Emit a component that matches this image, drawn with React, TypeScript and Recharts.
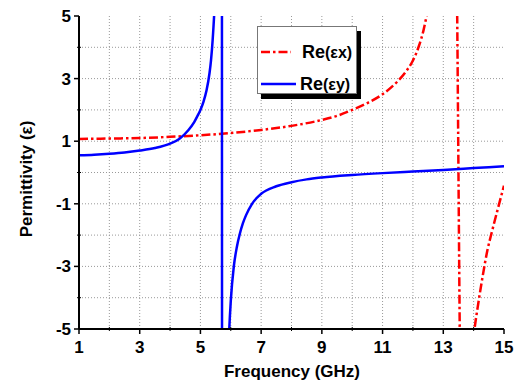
import React from 'react';
import { LineChart, Line, XAxis, YAxis, ReferenceLine } from 'recharts';

// Re(εy) – blue solid
const blueFreq = [1, 1.5, 2, 2.5, 3, 3.5, 4, 4.3, 4.6, 4.8, 4.9, 5, 5.1, 5.2, 5.3, 5.35, 5.4, 5.45, 5.5, 5.6, 5.7, 5.72, 5.85, 5.95, 6, 6.1, 6.2, 6.3, 6.4, 6.5, 6.7, 7, 7.5, 8, 8.5, 9, 10, 11, 12, 13, 14, 15];
const blueEps = [0.55, 0.57, 0.6, 0.64, 0.7, 0.78, 0.92, 1.07, 1.35, 1.62, 1.8, 2.0, 2.26, 2.62, 3.18, 3.6, 4.2, 5.0, 6.2, 10, 40, -40, -8, -5, -4.1, -3.0, -2.38, -1.95, -1.62, -1.37, -1.0, -0.68, -0.44, -0.31, -0.22, -0.16, -0.08, -0.02, 0.03, 0.08, 0.14, 0.2];

// Re(εx) – red dash-dot
const redFreq = [1, 2, 3, 4, 5, 6, 7, 8, 9, 9.5, 10, 10.5, 11, 11.5, 11.75, 12, 12.2, 12.35, 12.45, 12.6, 12.8, 13.0, 13.2, 13.38, 13.62, 14.03, 14.15, 14.3, 14.45, 14.6, 14.8, 15];
const redEps = [1.07, 1.085, 1.1, 1.14, 1.19, 1.26, 1.36, 1.49, 1.68, 1.81, 2.0, 2.22, 2.5, 2.92, 3.2, 3.58, 4.05, 4.55, 5.0, 5.8, 7.0, 8.5, 9.5, 10, -10, -5, -4.2, -3.3, -2.5, -1.9, -1.15, -0.42];

const xTicks = [1, 2, 3, 4, 5, 6, 7, 8, 9, 10, 11, 12, 13, 14, 15];
const yTicks = [-5, -4, -3, -2, -1, 0, 1, 2, 3, 4, 5];
const xGrid = [2, 3, 4, 5, 6, 7, 8, 9, 10, 11, 12, 13, 14];
const yGrid = [-4, -3, -2, -1, 0, 1, 2, 3, 4];

const blueData = blueFreq.map((f, i) => ({ f, v: blueEps[i] }));
const redData = redFreq.map((f, i) => ({ f, v: redEps[i] }));

const font = '"Liberation Sans", Arial, sans-serif';
const isMajor = (v: number) => Math.abs(v) % 2 === 1;

const BottomTick = (props: any) => {
  const { x, y, payload } = props;
  const v = payload.value;
  return (
    <g>
      {isMajor(v) ? (
        <line x1={x} x2={x} y1={y} y2={y + 5} stroke="#000" strokeWidth={1.5} />
      ) : (
        <line x1={x} x2={x} y1={y - 2} y2={y + 2} stroke="#000" strokeWidth={1} />
      )}
      {isMajor(v) && (
        <text x={x} y={y + 24} textAnchor="middle" fontSize={17} fontWeight="bold" fontFamily={font} fill="#000">
          {v}
        </text>
      )}
    </g>
  );
};

const LeftTick = (props: any) => {
  const { x, y, payload } = props;
  const v = payload.value;
  return (
    <g>
      {isMajor(v) ? (
        <line x1={x - 5} x2={x} y1={y} y2={y} stroke="#000" strokeWidth={1.5} />
      ) : (
        <line x1={x - 2} x2={x + 2} y1={y} y2={y} stroke="#000" strokeWidth={1} />
      )}
      {isMajor(v) && (
        <text x={x - 8} y={y + 6} textAnchor="end" fontSize={17} fontWeight="bold" fontFamily={font} fill="#000">
          {v}
        </text>
      )}
    </g>
  );
};

const TopTick = (props: any) => {
  const { x, y, payload } = props;
  const len = isMajor(payload.value) ? 4 : 2;
  return <line x1={x} x2={x} y1={y} y2={y + len} stroke="#000" strokeWidth={1} />;
};

const RightTick = (props: any) => {
  const { x, y, payload } = props;
  const len = isMajor(payload.value) ? 4 : 2;
  return <line x1={x} x2={x + len} y1={y} y2={y} stroke="#000" strokeWidth={1} />;
};

const gridStroke = '#999';

export default function App() {
  return (
    <div style={{ position: 'absolute', left: 0, top: 0, width: 526, height: 383, background: '#fff' }}>
      <LineChart width={526} height={383} data={blueData} margin={{ top: 16, right: 22, bottom: 0, left: 0 }}>
        <XAxis
          dataKey="f"
          type="number"
          domain={[1, 15]}
          ticks={xTicks}
          interval={0}
          height={54}
          tickSize={0}
          tickMargin={0}
          tickLine={false}
          tick={BottomTick}
          axisLine={{ stroke: '#000', strokeWidth: 2 }}
          allowDataOverflow
        />
        <XAxis
          xAxisId="top"
          orientation="top"
          dataKey="f"
          type="number"
          domain={[1, 15]}
          ticks={xTicks}
          interval={0}
          height={0}
          tickSize={0}
          tickMargin={0}
          tickLine={false}
          tick={TopTick}
          axisLine={{ stroke: '#000', strokeWidth: 2 }}
        />
        <YAxis
          type="number"
          domain={[-5, 5]}
          ticks={yTicks}
          interval={0}
          width={79}
          tickSize={0}
          tickMargin={0}
          tickLine={false}
          tick={LeftTick}
          axisLine={{ stroke: '#000', strokeWidth: 2 }}
          allowDataOverflow
        />
        <YAxis
          yAxisId="right"
          orientation="right"
          type="number"
          domain={[-5, 5]}
          ticks={yTicks}
          interval={0}
          width={0}
          tickSize={0}
          tickMargin={0}
          tickLine={false}
          tick={RightTick}
          axisLine={{ stroke: '#000', strokeWidth: 2 }}
        />
        {xGrid.map((g) => (
          <ReferenceLine key={'x' + g} x={g} stroke={gridStroke} strokeDasharray="1 2" strokeWidth={1} />
        ))}
        {yGrid.map((g) => (
          <ReferenceLine key={'y' + g} y={g} stroke={gridStroke} strokeDasharray="1 2" strokeWidth={1} />
        ))}
        <Line
          data={redData}
          dataKey="v"
          type="monotone"
          stroke="#ff0000"
          strokeWidth={2.5}
          strokeDasharray="9 3 2.5 3"
          dot={false}
          activeDot={false}
          isAnimationActive={false}
        />
        <Line
          data={blueData}
          dataKey="v"
          type="monotone"
          stroke="#0000ff"
          strokeWidth={2.5}
          dot={false}
          activeDot={false}
          isAnimationActive={false}
        />
      </LineChart>

      {/* axis titles */}
      <div
        style={{
          position: 'absolute',
          left: 0,
          top: 362,
          width: 584,
          textAlign: 'center',
          fontFamily: font,
          fontWeight: 'bold',
          fontSize: 17,
          lineHeight: '20px',
        }}
      >
        Frequency (GHz)
      </div>
      <div
        style={{
          position: 'absolute',
          left: 27 - 80,
          top: 179 - 10,
          width: 160,
          textAlign: 'center',
          fontFamily: font,
          fontWeight: 'bold',
          fontSize: 17,
          lineHeight: '20px',
          transform: 'rotate(-90deg)',
        }}
      >
        Permittivity (ε)
      </div>

      {/* legend */}
      <div
        style={{
          position: 'absolute',
          left: 257,
          top: 26,
          width: 98,
          height: 66,
          border: '1px solid #777',
          background: '#fff',
          boxShadow: '4px 5px 0 #000',
          fontFamily: font,
          fontWeight: 'bold',
        }}
      >
        <svg width={40} height={66} style={{ position: 'absolute', left: 0, top: 0 }}>
          <line x1={3} x2={33} y1={25} y2={25} stroke="#ff0000" strokeWidth={2.5} strokeDasharray="9 3 2.5 3" />
          <line x1={3} x2={38} y1={57} y2={57} stroke="#0000ff" strokeWidth={2.5} />
        </svg>
        <div style={{ position: 'absolute', left: 44, top: 14, lineHeight: '22px', whiteSpace: 'nowrap' }}>
          <span style={{ fontSize: 18 }}>Re</span>
          <span style={{ fontSize: 16 }}>(εx)</span>
        </div>
        <div style={{ position: 'absolute', left: 42, top: 46, lineHeight: '22px', whiteSpace: 'nowrap' }}>
          <span style={{ fontSize: 18 }}>Re</span>
          <span style={{ fontSize: 16 }}>(εy)</span>
        </div>
      </div>
    </div>
  );
}
